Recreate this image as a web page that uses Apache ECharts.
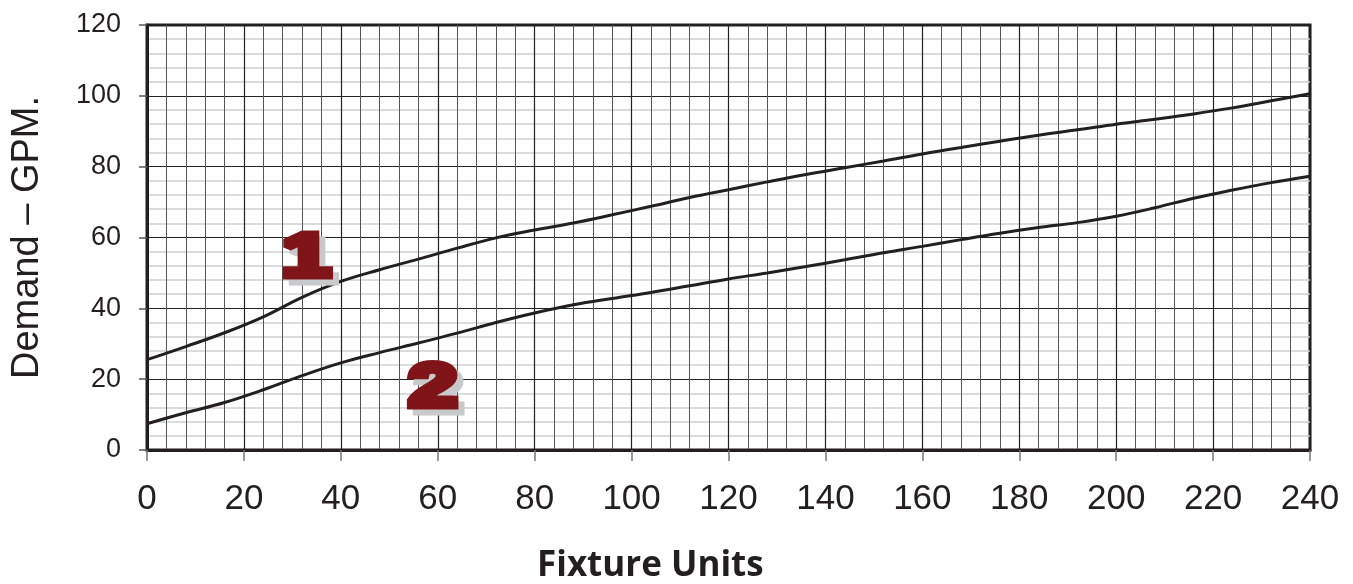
<!DOCTYPE html>
<html>
<head>
<meta charset="utf-8">
<script src="https://cdn.jsdelivr.net/npm/echarts@6/dist/echarts.min.js"></script>
<style>
  html, body { margin: 0; padding: 0; background: #fff; }
  #chart { width: 1353px; height: 584px; }
</style>
</head>
<body>
<div id="chart"></div>
<script>
// fixture units (x) and demand in GPM (y)
const fixtureUnits = [0, 8, 16, 24, 32, 40, 48, 56, 64, 72, 80, 88, 96, 104, 112, 120, 128, 136, 144, 152, 160, 168, 176, 184, 192, 200, 208, 216, 224, 232, 240]
const curve1 = [25.5, 29.2, 33.1, 37.6, 43.1, 47.6, 50.9, 53.9, 57.0, 59.9, 62.1, 64.1, 66.4, 68.8, 71.3, 73.5, 75.7, 77.8, 79.7, 81.6, 83.6, 85.4, 87.2, 88.9, 90.4, 92.0, 93.4, 94.9, 96.6, 98.6, 100.6]
const curve2 = [7.4, 10.5, 13.4, 17.0, 21.0, 24.6, 27.5, 30.2, 33.0, 36.0, 38.7, 41.0, 42.8, 44.5, 46.4, 48.3, 50.0, 51.8, 53.7, 55.7, 57.5, 59.4, 61.2, 62.8, 64.2, 66.0, 68.4, 71.1, 73.4, 75.5, 77.3]
const curveLabels = [
  { text: '1', x: 32.9, y: 54.0 },
  { text: '2', x: 59.0, y: 17.3 }
]

const ink = '#231f20'
const pair = (xs, ys) => xs.map((x, i) => [x, ys[i]])

const myChart = echarts.init(document.getElementById('chart'))

const options = {
  backgroundColor: '#fff',
  animation: false,
  title: {
    text: 'Fixture Units',
    left: 532,
    top: 544,
    textStyle: { fontFamily: 'Open Sans', fontWeight: 'bold', fontSize: 35, color: ink }
  },
  grid: {
    left: 147, right: 43, top: 25, bottom: 134,
    outerBoundsMode: 'none',
    show: true, borderWidth: 3, borderColor: ink, backgroundColor: 'transparent'
  },
  xAxis: {
    type: 'value',
    min: 0, max: 240, interval: 20,
    axisLine: { lineStyle: { color: ink, width: 3 } },
    axisTick: { show: true, length: 11, lineStyle: { color: '#777', width: 1.5 } },
    axisLabel: { margin: 32, fontSize: 35, color: ink, fontFamily: 'Liberation Sans' },
    splitLine: { lineStyle: { color: '#222', width: 1.2 } },
    minorTick: { show: false, splitNumber: 5 },
    minorSplitLine: { show: true, lineStyle: { color: '#555', width: 1 } }
  },
  yAxis: {
    type: 'value',
    min: 0, max: 120, interval: 20,
    name: 'Demand – GPM.',
    nameLocation: 'middle',
    nameGap: 100,
    nameTextStyle: { fontSize: 38, color: ink, fontFamily: 'Liberation Sans' },
    axisLine: { lineStyle: { color: ink, width: 3 } },
    axisTick: { show: true, length: 8, lineStyle: { color: '#555', width: 1.5 } },
    axisLabel: { margin: 26, fontSize: 27, color: ink, fontFamily: 'Liberation Sans' },
    splitLine: { lineStyle: { color: '#222', width: 1.2 } },
    minorTick: { show: false, splitNumber: 5 },
    minorSplitLine: { show: true, lineStyle: { color: '#d0d0d0', width: 1.5 } }
  },
  series: [
    {
      name: '1', type: 'line', smooth: 0.4, symbol: 'none', z: 5,
      lineStyle: { color: ink, width: 3 },
      data: pair(fixtureUnits, curve1)
    },
    {
      name: '2', type: 'line', smooth: 0.4, symbol: 'none', z: 5,
      lineStyle: { color: ink, width: 3 },
      data: pair(fixtureUnits, curve2)
    }
  ]
}

myChart.setOption(options)

// big red curve numbers with a grey drop shadow, placed in data coordinates
const labelGraphics = []
curveLabels.forEach(function (l) {
  const p = myChart.convertToPixel({ gridIndex: 0 }, [l.x, l.y])
  const font = { fontFamily: 'Liberation Sans', fontWeight: 'bold', fontSize: 62, align: 'center', verticalAlign: 'middle', lineWidth: 7, lineJoin: 'round' }
  labelGraphics.push({
    type: 'text', x: p[0] + 6, y: p[1] + 6, scaleX: 1.4, z: 10,
    style: Object.assign({ text: l.text, fill: '#c8c9cb', stroke: '#c8c9cb' }, font)
  })
  labelGraphics.push({
    type: 'text', x: p[0], y: p[1], scaleX: 1.4, z: 11,
    style: Object.assign({ text: l.text, fill: '#7f1518', stroke: '#7f1518' }, font)
  })
})
myChart.setOption({ graphic: labelGraphics })
</script>
</body>
</html>
